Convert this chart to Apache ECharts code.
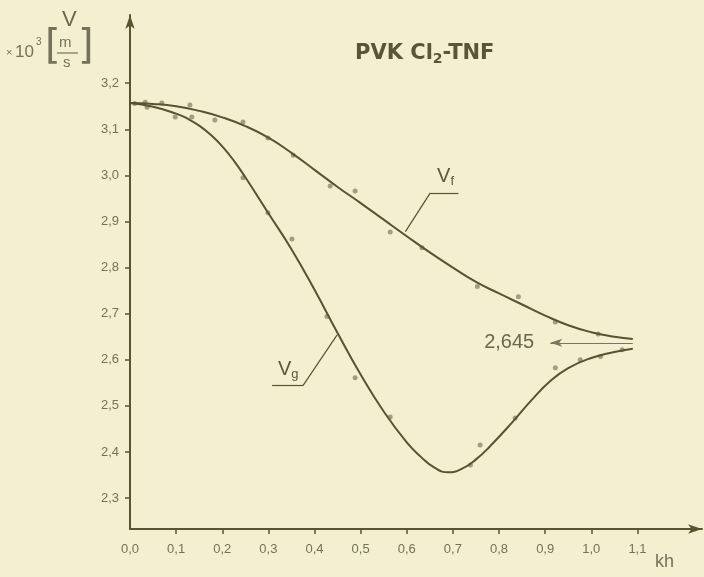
<!DOCTYPE html>
<html>
<head>
<meta charset="utf-8">
<script src="https://cdn.jsdelivr.net/npm/echarts@6/dist/echarts.min.js"></script>
<style>
	html,body{margin:0;padding:0;background:#f4efd0;}
	#chart{width:704px;height:577px;}
</style>
</head>
<body>
<div id="chart"></div>
<script>
	// axis ticks / labels
	const xTicks = [0.0, 0.1, 0.2, 0.3, 0.4, 0.5, 0.6, 0.7, 0.8, 0.9, 1.0, 1.1];
	const yTicks = [2.3, 2.4, 2.5, 2.6, 2.7, 2.8, 2.9, 3.0, 3.1, 3.2];

	// fitted curves [kh, V]
	const vfCurve = [
		[0.00, 3.157], [0.05, 3.155], [0.10, 3.150], [0.15, 3.140], [0.20, 3.126],
		[0.25, 3.107], [0.30, 3.082], [0.35, 3.049], [0.40, 3.012], [0.45, 2.975],
		[0.50, 2.940], [0.55, 2.904], [0.60, 2.868], [0.65, 2.833], [0.70, 2.800],
		[0.75, 2.769], [0.80, 2.744], [0.85, 2.720], [0.90, 2.696], [0.95, 2.675],
		[1.00, 2.660], [1.05, 2.650], [1.09, 2.645]
	];
	const vgCurve = [
		[0.00, 3.157], [0.05, 3.149], [0.10, 3.134], [0.125, 3.123], [0.15, 3.108],
		[0.175, 3.088], [0.20, 3.063], [0.225, 3.032], [0.25, 2.996], [0.30, 2.918],
		[0.35, 2.840], [0.40, 2.752], [0.45, 2.658], [0.50, 2.568], [0.55, 2.488],
		[0.60, 2.421], [0.63, 2.390], [0.66, 2.366], [0.69, 2.356], [0.72, 2.364],
		[0.75, 2.384], [0.78, 2.412], [0.83, 2.466], [0.87, 2.512], [0.91, 2.553],
		[0.95, 2.582], [1.00, 2.604], [1.05, 2.617], [1.09, 2.624]
	];

	// measured points
	const vfPoints = [
		[0.01, 3.156], [0.033, 3.159], [0.069, 3.157], [0.130, 3.153], [0.184, 3.120],
		[0.245, 3.116], [0.299, 3.081], [0.354, 3.044], [0.434, 2.977], [0.488, 2.966],
		[0.564, 2.877], [0.633, 2.843], [0.753, 2.759], [0.842, 2.737], [0.922, 2.682],
		[1.015, 2.656]
	];
	const vgPoints = [
		[0.037, 3.148], [0.098, 3.127], [0.134, 3.127], [0.245, 2.995], [0.299, 2.919],
		[0.351, 2.862], [0.427, 2.694], [0.488, 2.561], [0.564, 2.476], [0.738, 2.372],
		[0.759, 2.415], [0.835, 2.474], [0.922, 2.583], [0.976, 2.600], [1.020, 2.607],
		[1.067, 2.622]
	];

	const limitValue = '2,645';

	const inkColor = '#5a5230';
	const textColor = '#75715a';
	const dotColor = '#8d8771';
	const fontFamily = '"Liberation Sans", Arial, sans-serif';

	const myChart = echarts.init(document.getElementById('chart'));

	const fmt = v => v.toFixed(1).replace('.', ',');

	const option = {
		backgroundColor: '#f4efd0',
		animation: false,
		title: {
			text: 'PVK Cl{sub|2}-TNF',
			left: 350,
			top: 36,
			textStyle: {
				fontFamily: '"DejaVu Sans", sans-serif',
				fontSize: 21,
				fontWeight: 'bold',
				color: '#5a5438',
				rich: {
					sub: {
						fontFamily: '"DejaVu Sans", sans-serif',
						fontSize: 14,
						fontWeight: 'bold',
						color: '#5a5438',
						padding: [11, 0, 0, 0]
					}
				}
			}
		},
		grid: {
			left: 130,
			right: 2,
			top: 15,
			bottom: 48,
			outerBoundsMode: 'none'
		},
		xAxis: {
			type: 'value',
			min: 0,
			max: 1.24,
			splitLine: { show: false },
			axisLine: {
				lineStyle: { color: inkColor, width: 2 },
				symbol: ['none', 'arrow'],
				symbolSize: [7, 14]
			},
			axisTick: {
				customValues: xTicks.slice(1),
				length: 5,
				lineStyle: { color: inkColor, width: 1.5 }
			},
			axisLabel: {
				customValues: xTicks,
				formatter: fmt,
				margin: 14,
				color: textColor,
				fontSize: 13,
				fontFamily: fontFamily
			}
		},
		yAxis: {
			type: 'value',
			min: 2.233,
			max: 3.348,
			splitLine: { show: false },
			axisLine: {
				lineStyle: { color: inkColor, width: 2 },
				symbol: ['none', 'arrow'],
				symbolSize: [7, 14]
			},
			axisTick: {
				customValues: yTicks,
				length: 5,
				lineStyle: { color: inkColor, width: 1.5 }
			},
			axisLabel: {
				customValues: yTicks,
				formatter: fmt,
				margin: 11,
				color: textColor,
				fontSize: 13,
				fontFamily: fontFamily
			}
		},
		graphic: [
			{ type: 'text', left: 62, top: 9, style: { text: 'V', fontSize: 22, fontFamily: fontFamily, fill: '#6a6650' } },
			{ type: 'text', left: 6, top: 47, style: { text: '×', fontSize: 11, fontFamily: fontFamily, fill: textColor } },
			{ type: 'text', left: 15, top: 44, style: { text: '10', fontSize: 17, fontFamily: fontFamily, fill: textColor } },
			{ type: 'text', left: 36, top: 37, style: { text: '3', fontSize: 10, fontFamily: fontFamily, fill: textColor } },
			{ type: 'text', left: 45, top: 28, style: { text: '[', fontSize: 40, fontFamily: '"DejaVu Sans", sans-serif', fill: textColor } },
			{ type: 'text', left: 59, top: 35, style: { text: 'm', fontSize: 15, fontFamily: fontFamily, fill: textColor } },
			{ type: 'line', shape: { x1: 57, y1: 53, x2: 78, y2: 53 }, style: { stroke: textColor, lineWidth: 1.2 } },
			{ type: 'text', left: 63, top: 55, style: { text: 's', fontSize: 15, fontFamily: fontFamily, fill: textColor } },
			{ type: 'text', left: 78, top: 28, style: { text: ']', fontSize: 40, fontFamily: '"DejaVu Sans", sans-serif', fill: textColor } },
			{ type: 'text', left: 655, top: 553, style: { text: 'kh', fontSize: 18, fontFamily: fontFamily, fill: textColor } }
		],
		series: [
			{
				name: 'Vf',
				type: 'line',
				data: vfCurve,
				smooth: 0.5,
				showSymbol: false,
				lineStyle: { color: inkColor, width: 2 },
				markLine: {
					silent: true,
					symbol: 'none',
					lineStyle: { color: inkColor, width: 1.2, type: 'solid' },
					label: { show: false },
					data: [
						[{ coord: [0.597, 2.878] }, { coord: [0.651, 2.962] }],
						[{ coord: [0.651, 2.962] }, { coord: [0.712, 2.962] }]
					]
				},
				markPoint: {
					symbol: 'circle',
					symbolSize: 0,
					label: {
						show: true,
						formatter: '{v|V}{s|f}',
						rich: {
							v: { fontSize: 20, fontFamily: fontFamily, color: '#5e5838' },
							s: { fontSize: 13, fontFamily: fontFamily, color: '#5e5838', padding: [10, 0, 0, 0] }
						}
					},
					data: [{ coord: [0.684, 2.998] }]
				}
			},
			{
				name: 'Vg',
				type: 'line',
				data: vgCurve,
				smooth: 0.5,
				showSymbol: false,
				lineStyle: { color: inkColor, width: 2 },
				markLine: {
					silent: true,
					symbol: 'none',
					lineStyle: { color: inkColor, width: 1.2, type: 'solid' },
					label: { show: false },
					data: [
						[{ coord: [0.449, 2.654] }, { coord: [0.375, 2.544] }],
						[{ coord: [0.375, 2.544] }, { coord: [0.308, 2.544] }]
					]
				},
				markPoint: {
					symbol: 'circle',
					symbolSize: 0,
					label: {
						show: true,
						formatter: '{v|V}{s|g}',
						rich: {
							v: { fontSize: 20, fontFamily: fontFamily, color: '#5e5838' },
							s: { fontSize: 13, fontFamily: fontFamily, color: '#5e5838', padding: [10, 0, 0, 0] }
						}
					},
					data: [{ coord: [0.343, 2.580] }]
				}
			},
			{
				name: 'Vf points',
				type: 'scatter',
				data: vfPoints,
				symbolSize: 5,
				itemStyle: { color: dotColor }
			},
			{
				name: 'Vg points',
				type: 'scatter',
				data: vgPoints,
				symbolSize: 5,
				itemStyle: { color: dotColor }
			},
			{
				name: 'limit',
				type: 'line',
				data: [],
				markLine: {
					silent: true,
					symbol: ['none', 'arrow'],
					symbolSize: [6, 12],
					lineStyle: { color: '#7a7660', width: 1.2, type: 'solid' },
					label: {
						show: true,
						position: 'end',
						formatter: limitValue,
						distance: 16,
						fontSize: 20,
						fontFamily: fontFamily,
						color: '#6a6650'
					},
					data: [
						[{ coord: [1.09, 2.637] }, { coord: [0.911, 2.637] }]
					]
				}
			}
		]
	};

	myChart.setOption(option);
</script>
</body>
</html>
